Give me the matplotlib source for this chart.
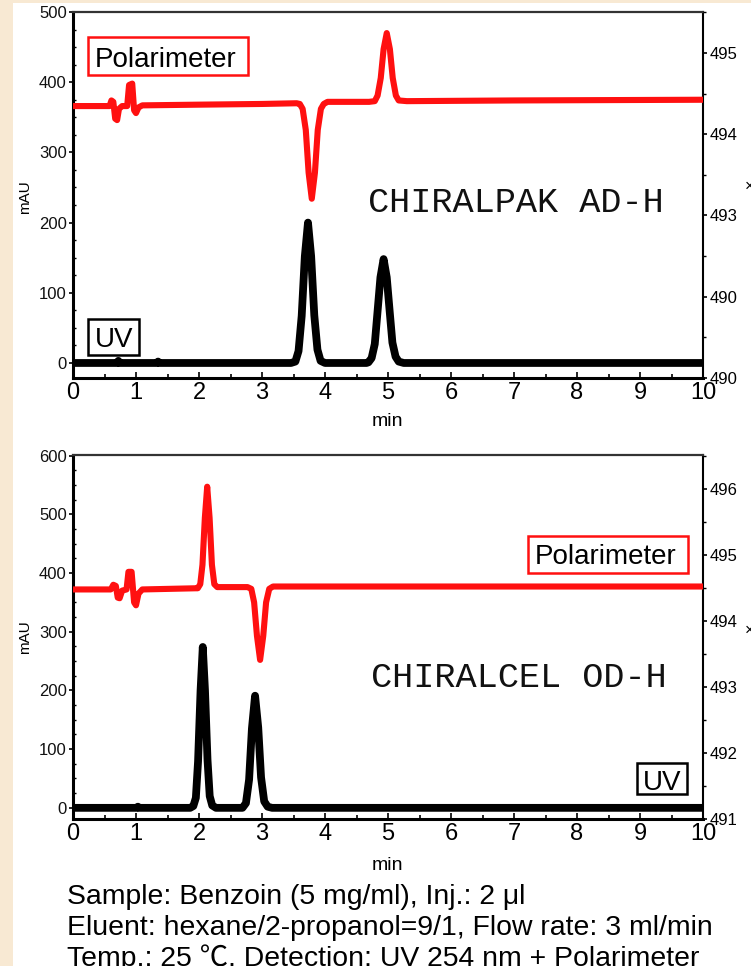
import matplotlib
matplotlib.use("Agg")
import matplotlib.pyplot as plt
from matplotlib import font_manager as fm
from matplotlib.patches import Rectangle
from matplotlib.ticker import MultipleLocator, AutoMinorLocator, FixedLocator

# ---------------- data ----------------
# CHIRALPAK AD-H : UV trace (mAU) and polarimeter trace
ad_uv_t = [0.00, 0.70, 0.72, 0.74, 1.33, 1.35, 1.37, 3.46, 3.53, 3.58, 3.63, 3.68, 3.73,
           3.78, 3.83, 3.88, 3.93, 4.00, 4.66, 4.69, 4.74, 4.79, 4.83, 4.88, 4.93, 4.98,
           5.03, 5.07, 5.12, 5.17, 5.25, 10.00]
ad_uv_mau = [0, 0, 3, 0, 0, 2, 0, 0, 2, 17, 67, 152, 200,
             152, 68, 19, 3, 0, 0, 1, 7, 27, 69, 122, 148, 122,
             70, 29, 9, 2, 0, 0]
ad_pol_t = [0.00, 0.58, 0.61, 0.64, 0.67, 0.70, 0.73, 0.78, 0.86, 0.89, 0.94, 0.97, 1.00,
            1.04, 1.10, 2.00, 3.00, 3.55, 3.60, 3.645, 3.695, 3.74, 3.79, 3.84, 3.885, 3.935,
            3.98, 4.04, 4.70, 4.79, 4.835, 4.885, 4.93, 4.98, 5.03, 5.075, 5.125, 5.17, 5.30,
            7.00, 10.00]
ad_pol_mau = [366, 366, 374, 372, 348, 346, 362, 366, 366, 396, 398, 360, 356,
              364, 367, 368, 369, 370, 369, 362, 332, 271, 234, 271, 332, 362,
              369, 372, 372, 373, 381, 406, 447, 470, 447, 406, 381, 374, 373,
              374, 375]

# CHIRALCEL OD-H : UV trace (mAU) and polarimeter trace
od_uv_t = [0.00, 1.01, 1.03, 1.05, 1.86, 1.91, 1.95, 1.985, 2.025, 2.06, 2.095, 2.135, 2.17,
           2.21, 2.27, 2.69, 2.745, 2.795, 2.84, 2.89, 2.94, 2.985, 3.035, 3.09, 3.16, 10.00]
od_uv_mau = [0, 0, 2, 0, 0, 3, 17, 79, 200, 274, 200, 82, 20,
             4, 0, 0, 8, 48, 135, 191, 137, 52, 11, 2, 0, 0]
od_pol_t = [0.00, 0.60, 0.64, 0.68, 0.71, 0.74, 0.78, 0.85, 0.88, 0.93, 0.97, 1.00, 1.04,
            1.10, 1.95, 1.98, 2.02, 2.055, 2.093, 2.13, 2.168, 2.205, 2.243, 2.29, 2.77, 2.83,
            2.875, 2.92, 2.97, 3.02, 3.065, 3.115, 3.175, 6.00, 10.00]
od_pol_mau = [372, 372, 380, 378, 358, 357, 370, 372, 402, 402, 350, 345, 365,
              372, 374, 374, 381, 414, 494, 547, 494, 414, 381, 376, 376, 373,
              350, 293, 252, 293, 350, 373, 377, 377, 377]

# axis tick labels
x_ticks = list(range(0, 11))
ad_left_ticks = [0, 100, 200, 300, 400, 500]
od_left_ticks = [0, 100, 200, 300, 400, 500, 600]
ad_right_labels = ["490", "490", "493", "494", "495"]
od_right_ticks = [491, 492, 493, 494, 495, 496]

column_names = ["CHIRALPAK AD-H", "CHIRALCEL OD-H"]
caption_lines = [
    "Sample: Benzoin (5 mg/ml), Inj.: 2 \u03bcl",
    "Eluent: hexane/2-propanol=9/1, Flow rate: 3 ml/min",
    "Temp.: 25 \u2103, Detection: UV 254 nm + Polarimeter",
]

# ---------------- style ----------------
names = {f.name for f in fm.fontManager.ttflist}
SANS = "Liberation Sans" if "Liberation Sans" in names else "DejaVu Sans"
NARROW = "Liberation Sans Narrow" if "Liberation Sans Narrow" in names else SANS
MONO = "Liberation Mono" if "Liberation Mono" in names else "DejaVu Sans Mono"
plt.rcParams["font.family"] = [SANS, "Noto Sans CJK JP", "DejaVu Sans"]

W, H = 751, 966
BEIGE = "#F8E9D3"
RED = "#FF1010"

fig = plt.figure(figsize=(W / 100, H / 100), dpi=100, facecolor=BEIGE)
fig.patches.append(Rectangle((13 / W, 0), 1 - 13 / W, 1 - 3 / H, transform=fig.transFigure,
                             facecolor="white", edgecolor="none", zorder=-10))


def fx(x):
    return x / W


def fy(y):
    return 1 - y / H


def make_axes(top_px, bottom_px):
    ax = fig.add_axes([fx(73), fy(bottom_px), (703 - 73) / W, (bottom_px - top_px) / H])
    ax.set_facecolor("white")
    ax.set_xlim(0, 10)
    ax.set_xticks(x_ticks)
    ax.xaxis.set_minor_locator(AutoMinorLocator(2))
    ax.tick_params(axis="x", which="major", direction="in", length=4, width=1.2,
                   labelsize=17, pad=3)
    ax.tick_params(axis="x", which="minor", direction="in", length=3, width=1.2)
    ax.tick_params(axis="y", which="major", direction="out", length=3, width=1.2,
                   labelsize=12, pad=1.5, labelcolor="#111111")
    ax.tick_params(axis="y", which="minor", direction="in", length=2, width=1)
    ax.yaxis.set_minor_locator(AutoMinorLocator(4))
    for side in ("left", "bottom"):
        ax.spines[side].set_linewidth(2.2)
        ax.spines[side].set_color("black")
    ax.spines["top"].set_linewidth(1.6)
    ax.spines["top"].set_color("#333333")
    ax.spines["right"].set_linewidth(1.5)
    return ax


def draw_traces(ax, uv_t, uv_v, pol_t, pol_v):
    ax.plot(pol_t, pol_v, color=RED, lw=4.4, solid_joinstyle="round",
            solid_capstyle="butt", zorder=3)
    ax.plot(uv_t, uv_v, color="black", lw=5.6, solid_joinstyle="round",
            solid_capstyle="butt", zorder=4)


def boxed_label(text, x0, y0, x1, y1, xc, baseline, color):
    fig.patches.append(Rectangle((fx(x0), fy(y1)), (x1 - x0) / W, (y1 - y0) / H,
                                 transform=fig.transFigure, facecolor="white",
                                 edgecolor=color, lw=1.8, zorder=5))
    fig.text(fx(xc), fy(baseline), text, ha="center", va="baseline", fontsize=20,
             family=SANS, color="black", zorder=6)


def fit_width(t, target_px):
    r = fig.canvas.get_renderer()
    w = t.get_window_extent(r).width
    t.set_fontsize(t.get_fontsize() * target_px / w)
    return t.get_fontsize()


# ---------------- upper panel: CHIRALPAK AD-H ----------------
ax1 = make_axes(12, 378)
ax1.set_ylim(-21.4, 500)
ax1.set_yticks(ad_left_ticks)
draw_traces(ax1, ad_uv_t, ad_uv_mau, ad_pol_t, ad_pol_mau)

r1 = ax1.twinx()
r1.set_ylim(0, 521.4 / 115.75)
r1.set_yticks(range(len(ad_right_labels)))
r1.set_yticklabels(ad_right_labels)
r1.yaxis.set_minor_locator(FixedLocator([0.5, 1.5, 2.5, 3.5, 4.5]))
r1.tick_params(axis="y", which="major", direction="out", length=3, width=1.2,
               labelsize=12, pad=2)
r1.tick_params(axis="y", which="minor", direction="out", length=2, width=1)
for s in r1.spines.values():
    s.set_visible(False)

# ---------------- lower panel: CHIRALCEL OD-H ----------------
ax2 = make_axes(455, 819)
ax2.set_ylim(-19, 601)
ax2.set_yticks(od_left_ticks)
draw_traces(ax2, od_uv_t, od_uv_mau, od_pol_t, od_pol_mau)

r2 = ax2.twinx()
r2.set_ylim(491 + 1.4 / 112.76, 491 + 621.4 / 112.76)
r2.set_yticks(od_right_ticks)
r2.set_yticklabels([str(v) for v in od_right_ticks])
r2.yaxis.set_minor_locator(MultipleLocator(0.5))
r2.tick_params(axis="y", which="major", direction="out", length=3, width=1.2,
               labelsize=12, pad=2)
r2.tick_params(axis="y", which="minor", direction="out", length=2, width=1)
for s in r2.spines.values():
    s.set_visible(False)

# ---------------- axis titles ----------------
for yc in (197, 637):
    fig.text(fx(25), fy(yc), "mAU", rotation=90, ha="center", va="center",
             fontsize=11, family=SANS)
for yc in (421, 866):
    fig.text(fx(387), fy(yc), "min", ha="center", va="center", fontsize=14,
             family=SANS)
# right-hand axis title, mostly beyond the figure edge
for yc in (186, 630):
    fig.text(fx(745), fy(yc), "\u00d7", ha="left", va="center", fontsize=12,
             family=SANS)

# ---------------- detector labels ----------------
boxed_label("Polarimeter", 88, 37, 248, 75, 166, 67, RED)
boxed_label("UV", 88, 319, 139, 355, 114, 347, "black")
boxed_label("Polarimeter", 528, 536, 688, 573, 606, 564, RED)
boxed_label("UV", 637, 763, 687, 794, 662, 790, "black")

# ---------------- column names ----------------
t_ad = fig.text(fx(368), fy(212), column_names[0], ha="left", va="baseline",
                fontsize=25, family=MONO, color="#111111")
t_od = fig.text(fx(371), fy(687), column_names[1], ha="left", va="baseline",
                fontsize=25, family=MONO, color="#111111")
fit_width(t_ad, 297)
fit_width(t_od, 297)

# ---------------- conditions ----------------
cap = []
for i, line in enumerate(caption_lines):
    cap.append(fig.text(fx(67), fy(904 + 31 * i), line, ha="left", va="baseline",
                        fontsize=19, family=[NARROW, "Noto Sans CJK JP", "DejaVu Sans"]))
size = fit_width(cap[1], 646)
for t in cap:
    t.set_fontsize(size)

fig.savefig("out.png", dpi=100, facecolor=BEIGE)
